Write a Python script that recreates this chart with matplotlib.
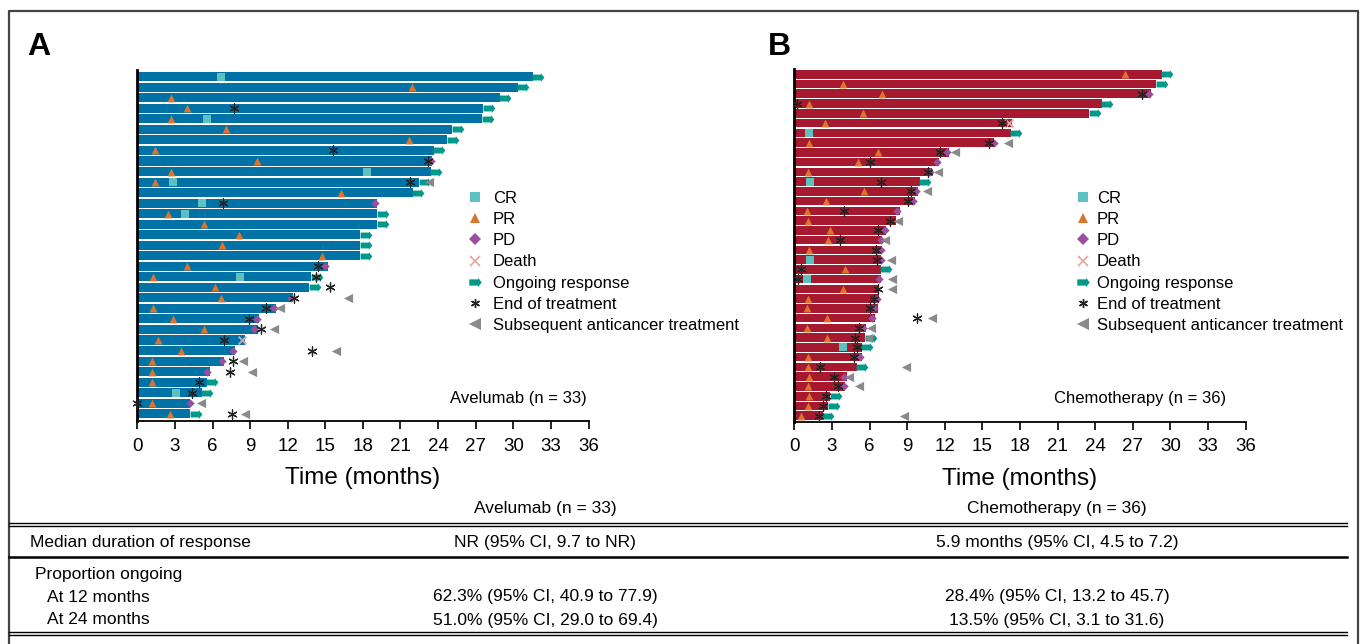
import numpy as np
import matplotlib.pyplot as plt
from matplotlib.path import Path
from matplotlib.lines import Line2D

nan = np.nan

# ---------------------------------------------------------
# Panel A: avelumab, one entry per responder, top to bottom (months)

a_dur = [31.55, 30.35, 28.9, 27.6, 27.5, 25.1, 24.7, 23.65, 23.55, 23.4, 22.5,
         21.97, 19.15, 19.15, 19.15, 17.8, 17.8, 17.8, 15.2, 13.86, 13.7, 12.4,
         11.04, 9.71, 9.6, 8.57, 7.8, 6.92, 5.8, 5.54, 5.14, 4.2, 4.2]
a_ongoing = [1, 1, 1, 1, 1, 1, 1, 1, 0, 1, 1,
             1, 0, 1, 1, 1, 1, 1, 0, 1, 1, 0,
             0, 0, 0, 0, 0, 0, 0, 1, 1, 0, 1]
a_cr = [6.7, nan, nan, nan, 5.6, nan, nan, nan, nan, 18.3, 2.82,
        nan, 5.14, 3.8, nan, nan, nan, nan, nan, 8.2, nan, nan,
        nan, nan, nan, nan, nan, nan, nan, nan, 3.09, nan, nan]
a_pr = [nan, 21.9, 2.66, 3.97, 2.66, 7.1, 21.7, 1.39, 9.55, 2.66, 1.39,
        16.26, nan, 2.42, 5.32, 8.14, 6.73, 14.7, 4.0, 1.28, 6.23, 6.65,
        1.28, 2.82, 5.32, 1.63, 3.5, 1.2, 1.2, 1.2, nan, 1.2, 2.63]
a_pd = [nan, nan, nan, nan, nan, nan, nan, nan, 23.45, nan, nan,
        nan, 19.0, nan, nan, nan, nan, nan, 15.0, nan, nan, 12.24,
        10.9, 9.55, 9.3, nan, 7.66, 6.73, 5.6, nan, nan, 4.2, nan]
a_death = [nan, nan, nan, nan, nan, nan, nan, nan, nan, nan, nan,
           nan, nan, nan, nan, nan, nan, nan, nan, nan, nan, nan,
           nan, nan, nan, 8.33, nan, nan, nan, nan, nan, nan, nan]
a_eot = [nan, nan, nan, 7.74, nan, nan, nan, 15.6, 23.2, nan, 21.76,
         nan, 6.8, nan, nan, nan, nan, nan, 14.4, 14.26, 15.4, 12.53,
         10.27, 8.9, 9.87, 6.95, 13.97, 7.6, 7.4, 4.95, 4.37, -0.05, 7.56]
a_subs = [nan, nan, nan, nan, nan, nan, nan, nan, nan, nan, 23.3,
          nan, nan, nan, nan, nan, nan, nan, nan, nan, nan, 16.84,
          11.4, nan, 10.94, nan, 15.86, 8.46, 9.15, nan, nan, 5.08, 8.6]

# Panel B: chemotherapy

b_dur = [29.3, 28.85, 28.44, 24.53, 23.52, 17.35, 17.27, 15.9, 12.32, 11.55, 10.97, 10.0,
         9.85, 9.63, 8.41, 8.14, 7.34, 7.02, 7.02, 6.94, 6.9, 6.9, 6.78, 6.73,
         6.68, 6.46, 5.7, 5.64, 5.38, 5.38, 4.98, 4.18, 4.05, 2.85, 2.71, 2.27]
b_ongoing = [1, 1, 0, 1, 1, 0, 1, 0, 0, 0, 0, 1,
             0, 0, 0, 0, 0, 0, 0, 0, 1, 0, 0, 0,
             0, 0, 0, 1, 1, 0, 1, 0, 0, 1, 1, 1]
b_cr = [nan, nan, nan, nan, nan, nan, 1.2, nan, nan, nan, nan, 1.28,
        nan, nan, nan, nan, nan, nan, nan, 1.28, nan, 0.99, nan, nan,
        nan, nan, nan, nan, 3.91, nan, nan, nan, nan, nan, nan, nan]
b_pr = [26.4, 3.89, 7.0, 1.15, 5.46, 2.42, nan, 1.17, 6.68, 5.11, 1.12, nan,
        5.56, 2.53, 1.04, 1.12, 2.87, 2.69, 1.17, nan, 4.07, nan, 3.89, 1.09,
        1.04, 2.61, 1.04, 2.61, nan, 1.12, 1.12, 1.17, 1.12, 1.2, 1.09, 0.56]
b_pd = [nan, nan, 28.3, nan, nan, nan, nan, 15.9, 12.21, 11.41, 10.85, nan,
        9.71, 9.5, 8.22, nan, 7.21, 6.92, 6.9, 6.9, nan, 6.78, nan, 6.62,
        6.38, 6.2, 5.5, nan, nan, 5.22, nan, 3.97, 3.97, nan, nan, nan]
b_death = [nan, nan, nan, nan, nan, 17.1, nan, nan, nan, nan, nan, nan,
           nan, nan, nan, nan, nan, nan, nan, nan, nan, nan, nan, nan,
           nan, nan, nan, nan, nan, nan, nan, nan, nan, nan, nan, nan]
b_eot = [nan, nan, 27.77, 0.19, nan, 16.58, nan, 15.56, 11.63, 6.07, 10.65, 6.92,
         9.31, 9.1, 3.99, 7.66, 6.68, 3.67, 6.52, 6.63, 0.53, 0.32, 6.7, 6.33,
         6.04, 9.77, 5.14, 4.87, 5.03, 4.76, 2.03, 3.17, 3.49, 2.55, 2.29, 1.97]
b_subs = [nan, nan, nan, nan, nan, nan, nan, 17.03, 12.85, nan, 11.44, nan,
          10.62, nan, nan, 8.3, nan, 7.24, nan, 7.74, nan, 7.8, 7.8, nan,
          nan, 10.97, 6.12, 5.9, nan, nan, 8.89, 4.39, 5.16, nan, nan, 8.78]

x_ticks = list(range(0, 37, 3))
legend_labels = ["CR", "PR", "PD", "Death", "Ongoing response",
                 "End of treatment", "Subsequent anticancer treatment"]

table_cols = ["Avelumab (n = 33)", "Chemotherapy (n = 36)"]
table_rows = ["Median duration of response", "Proportion ongoing",
              "At 12 months", "At 24 months"]
table_vals = [["NR (95% CI, 9.7 to NR)", "5.9 months (95% CI, 4.5 to 7.2)"],
              ["", ""],
              ["62.3% (95% CI, 40.9 to 77.9)", "28.4% (95% CI, 13.2 to 45.7)"],
              ["51.0% (95% CI, 29.0 to 69.4)", "13.5% (95% CI, 3.1 to 31.6)"]]

# ---------------------------------------------------------

BLUE = '#0072A6'
RED = '#A6192E'
TEAL = '#00998A'
CR_C = '#5DC1C0'
PR_C = '#D9752F'
PD_C = '#9C4E9E'
DEATH_C = '#E6A4A0'
EOT_C = '#222222'
SUBS_C = '#8A8A8A'

ARROW = Path([(-1, -0.5), (0.4, -0.5), (0.4, -0.75), (1, 0), (0.4, 0.75),
              (0.4, 0.5), (-1, 0.5), (-1, -0.5)], closed=True)
ASTER = (6, 2, 0)

plt.rcParams['font.family'] = ['Liberation Sans', 'DejaVu Sans']

W, H = 1364, 644

def fx(px):
  return px / W

def fy(py):
  return 1 - py / H


def draw_panel(ax, dur, ongoing, cr, pr, prog, death, eot, subs, color, bar_h, ylim):
  y = np.arange(1, len(dur) + 1)
  dur = np.asarray(dur)
  on = np.asarray(ongoing, dtype=bool)
  ax.barh(y, dur, height=bar_h, color=color, zorder=1)
  ax.scatter(dur[on] + 0.45, y[on], marker=ARROW, s=72, color=TEAL, lw=0, zorder=2)
  ax.scatter(cr, y, marker='s', s=28, color=CR_C, lw=0, zorder=3)
  ax.scatter(pr, y, marker='^', s=32, color=PR_C, lw=0, zorder=3)
  ax.scatter(prog, y, marker='D', s=18, color=PD_C, lw=0, zorder=4)
  ax.scatter(death, y, marker='x', s=32, color=DEATH_C, lw=1.3, zorder=4)
  ax.scatter(subs, y, marker='<', s=44, color=SUBS_C, lw=0, zorder=4)
  ax.scatter(eot, y, marker=ASTER, s=44, color=EOT_C, lw=0.9, zorder=5, clip_on=False)

  ax.set_xlim(0, 36)
  ax.set_ylim(ylim)
  ax.set_xticks(x_ticks)
  ax.set_yticks([])
  for s in ['top', 'right']:
    ax.spines[s].set_visible(False)
  ax.spines['left'].set_linewidth(2)
  ax.spines['bottom'].set_linewidth(1.3)
  ax.tick_params(axis='x', length=6, width=1.2, labelsize=13.5, pad=6)
  ax.set_xlabel("Time (months)", fontsize=17.5, labelpad=9)


def add_legend(fig, left, top, textpad):
  handles = [
    Line2D([], [], ls='none', marker='s', ms=6.5, color=CR_C, mew=0),
    Line2D([], [], ls='none', marker='^', ms=7.5, color=PR_C, mew=0),
    Line2D([], [], ls='none', marker='D', ms=6, color=PD_C, mew=0),
    Line2D([], [], ls='none', marker='x', ms=6.5, color=DEATH_C, mew=1.2),
    Line2D([], [], ls='none', marker=ARROW, ms=9, color=TEAL, mew=0),
    Line2D([], [], ls='none', marker=ASTER, ms=6.5, color=EOT_C, mew=1),
    Line2D([], [], ls='none', marker='<', ms=8, color=SUBS_C, mew=0),
  ]
  fig.legend(handles, legend_labels, loc='upper left',
             bbox_to_anchor=(fx(left), fy(top)), frameon=False, fontsize=12,
             handlelength=0.8, handletextpad=textpad, labelspacing=0.37,
             borderpad=0, borderaxespad=0)


fig = plt.figure(figsize=(W / 100, H / 100), dpi=100)

ax_a = fig.add_axes([fx(137.3), fy(421), fx(451.2), 351 / H])
draw_panel(ax_a, a_dur, a_ongoing, a_cr, a_pr, a_pd, a_death, a_eot, a_subs,
           BLUE, 0.86, (33.69, 0.36))
ax_a.text(0.844, 0.0655, "Avelumab (n = 33)", transform=ax_a.transAxes,
          ha='center', va='center', fontsize=12)

ax_b = fig.add_axes([fx(794.3), fy(421.5), fx(451.2), 352.5 / H])
draw_panel(ax_b, b_dur, b_ongoing, b_cr, b_pr, b_pd, b_death, b_eot, b_subs,
           RED, 0.88, (36.59, 0.46))
ax_b.text(0.767, 0.0655, "Chemotherapy (n = 36)", transform=ax_b.transAxes,
          ha='center', va='center', fontsize=12)

add_legend(fig, 468, 191, 0.68)
add_legend(fig, 1076, 191, 0.44)

fig.text(fx(27), fy(55), "A", fontsize=23, weight='bold', va='baseline')
fig.text(fx(768), fy(55), "B", fontsize=23, weight='bold', va='baseline')

# outer frame
fig.add_artist(Line2D([fx(9), fx(9), fx(1358), fx(1358)], [0, fy(11), fy(11), 0],
                      transform=fig.transFigure, color='#444444', lw=1.6))

# summary table
col_x = [545, 1057]
for cx, name in zip(col_x, table_cols):
  fig.text(fx(cx), fy(509), name, ha='center', va='center', fontsize=12.5)

row_y = [542, 574, 597, 620]
row_x = [30, 35, 47, 47]
for ry, rx, name, vals in zip(row_y, row_x, table_rows, table_vals):
  fig.text(fx(rx), fy(ry), name, ha='left', va='center', fontsize=12.5)
  for cx, v in zip(col_x, vals):
    fig.text(fx(cx), fy(ry), v, ha='center', va='center', fontsize=12.5)

for ly, lw in [(522.5, 1.0), (526, 1.0), (556.5, 1.8), (631.5, 1.0), (635, 1.0)]:
  fig.add_artist(Line2D([fx(9), fx(1347)], [fy(ly), fy(ly)],
                        transform=fig.transFigure, color='black', lw=lw))

fig.savefig("out.png", dpi=100)
